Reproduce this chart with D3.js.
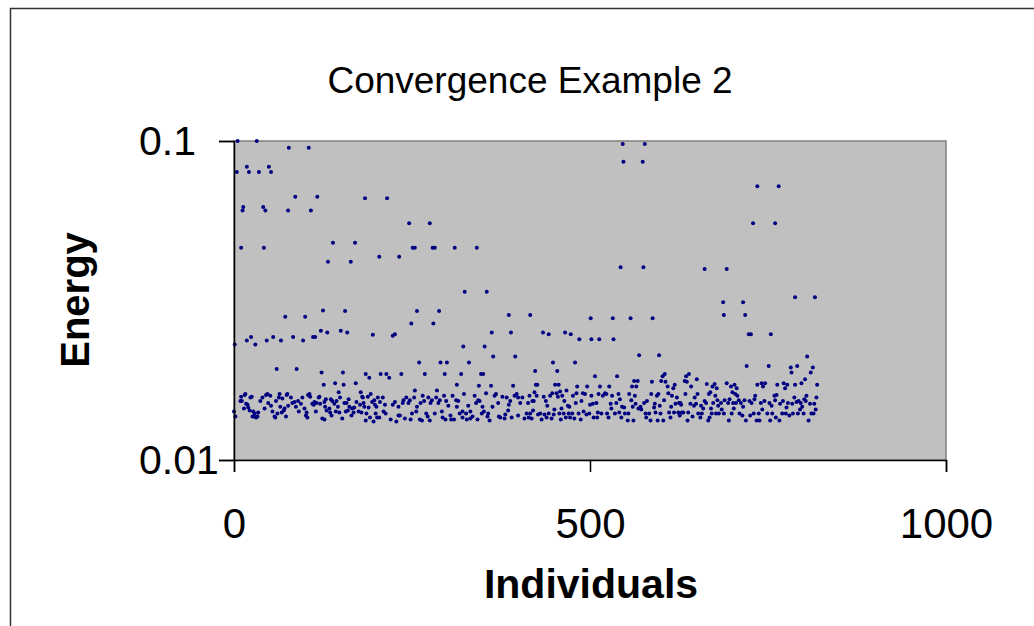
<!DOCTYPE html>
<html>
<head>
<meta charset="utf-8">
<script src="https://cdn.jsdelivr.net/npm/d3@7"></script>
<style>
  body { margin: 0; background: #fff; }
  svg { display: block; }
  text { font-family: "Liberation Sans", Arial, Helvetica, sans-serif; fill: #000; }
</style>
</head>
<body>
<svg id="chart" width="1034" height="626"></svg>
<script>
// Axis ticks
const xTicks = [0, 500, 1000];
const yTicks = [0.01, 0.1];

// Energy of each individual: [individual, energy]
// High-energy individuals (early generations and later restarts)
const upperSamples = [
  [5,0.100],[32,0.100],[77,0.0953],[105,0.0953],[18,0.0830],[49,0.0830],
  [4,0.0800],[21,0.0800],[35,0.0800],[52,0.0800],[86,0.0669],[117,0.0669],
  [13,0.0621],[12,0.0605],[41,0.0621],[44,0.0605],[76,0.0605],[108,0.0605],
  [10,0.0463],[42,0.0463],[132,0.0418],[125,0.0294],[72,0.0281],[100,0.0281],
  [122,0.0254],[131,0.0251],[1,0.0230],[18,0.0237],[24,0.0243],[30,0.0230],
  [46,0.0237],[55,0.0243],[66,0.0237],[83,0.0243],[97,0.0237],[111,0.0243],[114,0.0243],
  [60,0.0193],[88,0.0193],[123,0.0188],[126,0.0172],
  [184,0.0661],[215,0.0661],[246,0.0552],[275,0.0552],[139,0.0480],[170,0.0480],
  [251,0.0463],[254,0.0463],[164,0.0418],[204,0.0434],[232,0.0434],
  [156,0.0293],[257,0.0293],[249,0.0268],[150,0.0254],[159,0.0251],[195,0.0247],
  [223,0.0245],[226,0.0248],[260,0.0202],[153,0.0188],[185,0.0186],[190,0.0181],
  [206,0.0186],[214,0.0186],[218,0.0181],[235,0.0186],[268,0.0186],
  [142,0.0174],[154,0.0172],[171,0.0174],[147,0.0163],[178,0.0163],[181,0.0157],
  [192,0.0161],[202,0.0157],
  [290,0.0202],[299,0.0202],[330,0.0202],[296,0.0186],[319,0.0186],[347,0.0186],[350,0.0186],
  [313,0.0172],[344,0.0171],[361,0.0171],[392,0.0171],[254,0.0165],[285,0.0165],
  [279,0.0463],[282,0.0463],[310,0.0463],[341,0.0463],[324,0.0337],[355,0.0337],
  [288,0.0293],[280,0.0268],[386,0.0285],[416,0.0285],[362,0.0251],[389,0.0251],
  [322,0.0227],[352,0.0227],[364,0.0211],[395,0.0211],
  [546,0.0979],[547,0.0861],[543,0.0402],[501,0.0278],[532,0.0278],
  [434,0.0251],[442,0.0248],[465,0.0251],[473,0.0248],
  [485,0.0239],[502,0.0239],[513,0.0239],[533,0.0239],
  [448,0.0202],[479,0.0202],[423,0.0190],[454,0.0190],[507,0.0183],[538,0.0183],
  [424,0.0172],[426,0.0172],[451,0.0172],[456,0.0172],
  [482,0.0170],[496,0.0170],[514,0.0170],[527,0.0170],
  [577,0.0979],[574,0.0861],[575,0.0402],[661,0.0397],[692,0.0397],[687,0.0312],[688,0.0285],
  [557,0.0278],[588,0.0278],[569,0.0213],[597,0.0213],[605,0.0186],[639,0.0186],
  [562,0.0177],[567,0.0177],[559,0.0170],[565,0.0170],
  [587,0.0176],[600,0.0177],[602,0.0183],[606,0.0176],[609,0.0170],[617,0.0168],[619,0.0172],
  [735,0.0721],[765,0.0721],[729,0.0552],[760,0.0552],[788,0.0324],[816,0.0324],
  [715,0.0312],[718,0.0285],[723,0.0248],[726,0.0248],[754,0.0248],
  [805,0.0211],[720,0.0197],[751,0.0197],[782,0.0195],[791,0.0197],
  [783,0.0188],[813,0.0195],[810,0.0188],[802,0.0179],[819,0.0172],
  [635,0.0183],[633,0.0177],[636,0.0176],[650,0.0179],[642,0.0170],
  [664,0.0173],[672,0.0170],[675,0.0173],[678,0.0168],[669,0.0163],
  [692,0.0174],[698,0.0170],[703,0.0172],[706,0.0168],[700,0.0163],[704,0.0161],
  [735,0.0172],[741,0.0174],[746,0.0174],[743,0.0170],
  [763,0.0172],[772,0.0174],[777,0.0172],[774,0.0168],[788,0.0172],[797,0.0174]
];

// Individuals 0-200
const bandA = [
  [15,0.0160],[23,0.0157],[40,0.0157],[45,0.0160],[51,0.0159],[63,0.0157],[68,0.0156],[74,0.0160],
  [80,0.0157],[96,0.0157],[104,0.0160],[107,0.0158],[119,0.0157],[129,0.0155],[136,0.0155],
  [149,0.0157],[161,0.0155],[180,0.0158],[188,0.0158],[197,0.0154],
  [9,0.0153],[37,0.0153],[48,0.0151],[59,0.0153],[82,0.0151],[85,0.0152],[90,0.0153],[94,0.0150],
  [113,0.0152],[116,0.0151],[127,0.0152],[138,0.0153],[144,0.0153],[158,0.0151],[172,0.0152],
  [182,0.0151],[194,0.0152],
  [17,0.0150],[14,0.0145],[43,0.0145],[52,0.0148],[65,0.0147],[71,0.0145],[76,0.0148],[87,0.0147],
  [99,0.0145],[110,0.0150],[112,0.0149],[121,0.0150],[128,0.0147],[134,0.0145],[141,0.0150],
  [146,0.0147],[155,0.0151],[162,0.0147],[166,0.0145],[169,0.0146],[177,0.0149],[183,0.0147],
  [189,0.0146],[198,0.0149],[200,0.0147],
  [0,0.0142],[22,0.0143],[29,0.0140],[54,0.0142],[61,0.0140],[67,0.0141],[70,0.0143],[91,0.0142],
  [102,0.0141],[115,0.0142],[130,0.0143],[135,0.0141],[143,0.0142],[148,0.0141],[157,0.0142],
  [160,0.0143],[168,0.0141],[175,0.0142],[179,0.0141],[186,0.0140],[199,0.0140],
  [2,0.0137],[26,0.0137],[31,0.0136],[57,0.0137],[73,0.0137],[101,0.0138],[124,0.0135],
  [137,0.0138],[152,0.0135],[165,0.0138],[185,0.0133],[191,0.0136],[196,0.0132],[201,0.0136],
  [10,0.0158],[11,0.0153],[16,0.0161],[19,0.0149],[20,0.0146],[25,0.0158],[27,0.0142],
  [28,0.0137],[33,0.0137],[34,0.0141],[47,0.0161],[64,0.0161],[75,0.0161],[106,0.0161],
  [120,0.0158],[58,0.0136],[103,0.0136],[127,0.0134]
];

// Individuals 200-415
const bandB = [
  [209,0.0157],[205,0.0152],[212,0.0149],[210,0.0142],[213,0.0140],[204,0.0136],[220,0.0134],
  [228,0.0132],[231,0.0147],[226,0.0152],[237,0.0151],[238,0.0154],[242,0.0157],[245,0.0151],
  [247,0.0154],[253,0.0157],[250,0.0140],[248,0.0134],[240,0.0135],[233,0.0138],[256,0.0142],
  [262,0.0151],[265,0.0159],[267,0.0153],[261,0.0134],[264,0.0133],[270,0.0140],[273,0.0157],
  [276,0.0151],[278,0.0154],[284,0.0157],[287,0.0151],[289,0.0154],[295,0.0159],[298,0.0153],
  [293,0.0136],[292,0.0142],[301,0.0148],[304,0.0138],[297,0.0134],[305,0.0134],[309,0.0134],
  [307,0.0159],[312,0.0154],[315,0.0153],[317,0.0140],[321,0.0142],[323,0.0161],[326,0.0140],
  [327,0.0134],[329,0.0148],[332,0.0142],[338,0.0159],[340,0.0151],[343,0.0154],[345,0.0153],
  [335,0.0137],[342,0.0134],[348,0.0140],[351,0.0142],[354,0.0162],[357,0.0140],[356,0.0137],
  [359,0.0133],[366,0.0159],[368,0.0161],[371,0.0151],[374,0.0136],[377,0.0158],[380,0.0135],
  [383,0.0157],[385,0.0143],[388,0.0153],[390,0.0136],[394,0.0159],[397,0.0161],[399,0.0157],
  [402,0.0151],[405,0.0157],[408,0.0135],[411,0.0140],[414,0.0136],[381,0.0139],[372,0.0137],
  [275,0.0133],[223,0.0149],[231,0.0138],[257,0.0147],[272,0.0137],[282,0.0140],[313,0.0147],
  [321,0.0136],[332,0.0135],[349,0.0147],[363,0.0147],[386,0.0149],[399,0.0138],[413,0.0151]
];

// Individuals 415-626
const bandC = [
  [415,0.0159],[422,0.0163],[425,0.0159],[419,0.0153],[421,0.0153],[435,0.0158],[438,0.0153],
  [440,0.0148],[444,0.0159],[447,0.0162],[453,0.0162],[455,0.0158],[458,0.0164],[461,0.0159],
  [467,0.0165],[464,0.0153],[469,0.0148],[476,0.0159],[481,0.0162],[480,0.0151],[488,0.0153],
  [490,0.0162],[493,0.0161],[502,0.0159],[504,0.0150],[509,0.0151],[512,0.0161],[518,0.0159],
  [521,0.0162],[523,0.0161],[529,0.0150],[531,0.0159],[537,0.0151],[540,0.0161],[542,0.0155],
  [545,0.0147],[555,0.0161],[558,0.0154],[563,0.0159],[564,0.0150],[568,0.0145],[576,0.0151],
  [580,0.0153],[586,0.0161],[591,0.0150],[594,0.0159],[596,0.0161],[604,0.0154],[610,0.0162],
  [615,0.0159],[620,0.0150],[622,0.0157],[625,0.0151],
  [416,0.0140],[418,0.0135],[420,0.0143],[427,0.0139],[430,0.0140],[432,0.0134],[436,0.0139],
  [439,0.0136],[442,0.0140],[446,0.0135],[449,0.0139],[457,0.0140],[459,0.0134],[463,0.0140],
  [466,0.0136],[470,0.0140],[472,0.0136],[475,0.0140],[478,0.0135],[484,0.0140],[487,0.0134],
  [491,0.0142],[495,0.0139],[499,0.0140],[505,0.0136],[510,0.0136],[511,0.0141],[516,0.0140],
  [524,0.0140],[526,0.0136],[535,0.0140],[541,0.0141],[544,0.0136],[549,0.0140],[554,0.0140],
  [553,0.0133],[561,0.0133],[572,0.0144],[578,0.0140],[579,0.0136],[583,0.0140],[585,0.0133],
  [592,0.0141],[595,0.0133],[599,0.0140],[603,0.0133],[611,0.0141],[613,0.0136],[618,0.0141],
  [626,0.0138],[450,0.0144],[460,0.0145],[471,0.0147],[500,0.0149],[530,0.0145],[548,0.0146],
  [560,0.0147],[571,0.0147],[590,0.0146],[598,0.0148],[614,0.0147]
];

// Individuals 624-820
const bandD = [
  [634,0.0161],[651,0.0161],[647,0.0157],[667,0.0161],[676,0.0159],[679,0.0154],[707,0.0159],
  [709,0.0154],[696,0.0155],[732,0.0159],[731,0.0155],[759,0.0159],[762,0.0160],[787,0.0157],
  [793,0.0153],[801,0.0155],[804,0.0159],[818,0.0157],
  [627,0.0151],[641,0.0150],[646,0.0148],[649,0.0150],[656,0.0148],[661,0.0153],[663,0.0151],
  [673,0.0151],[680,0.0148],[684,0.0151],[689,0.0154],[694,0.0151],[701,0.0151],[705,0.0151],
  [712,0.0151],[717,0.0154],[724,0.0153],[727,0.0151],[740,0.0151],[745,0.0153],[752,0.0151],
  [760,0.0154],[767,0.0150],[771,0.0153],[778,0.0151],[784,0.0150],[790,0.0152],[796,0.0151],
  [803,0.0153],[809,0.0150],[815,0.0150],
  [624,0.0141],[629,0.0141],[631,0.0141],[638,0.0141],[637,0.0133],[644,0.0137],[652,0.0140],
  [655,0.0136],[657,0.0140],[666,0.0133],[668,0.0136],[671,0.0140],[677,0.0140],[681,0.0140],
  [688,0.0140],[695,0.0133],[699,0.0140],[702,0.0145],[710,0.0140],[714,0.0138],[719,0.0133],
  [725,0.0138],[730,0.0140],[734,0.0133],[738,0.0133],[737,0.0140],[742,0.0144],[749,0.0140],
  [753,0.0133],[756,0.0140],[761,0.0136],[766,0.0133],[770,0.0140],[775,0.0140],[780,0.0138],
  [785,0.0140],[792,0.0140],[795,0.0144],[800,0.0140],[807,0.0133],[811,0.0140],[814,0.0140],
  [817,0.0144],[628,0.0149],[659,0.0145],[670,0.0145],[685,0.0144],[715,0.0147],[755,0.0148],
  [776,0.0146],[798,0.0147]
];

const samples = [].concat(upperSamples, bandA, bandB, bandC, bandD);

const svg = d3.select("#chart");
const W = 1034, H = 626;
const plot = { left: 234, right: 946, top: 141, bottom: 460 };

// Chart frame
svg.append("rect")
  .attr("x", 10.5).attr("y", 8.5)
  .attr("width", W + 20).attr("height", H + 20)
  .attr("fill", "#fff")
  .attr("stroke", "#333").attr("stroke-width", 1.5);

const x = d3.scaleLinear().domain([0, 1000]).range([plot.left, plot.right]);
const y = d3.scaleLog().domain([0.01, 0.1]).range([plot.bottom, plot.top]);

// Plot area
svg.append("rect")
  .attr("x", plot.left).attr("y", plot.top)
  .attr("width", plot.right - plot.left).attr("height", plot.bottom - plot.top)
  .attr("fill", "#c0c0c0")
  .attr("stroke", "#808080").attr("stroke-width", 1.5);

// Points
svg.append("g")
  .selectAll("circle")
  .data(samples)
  .join("circle")
  .attr("cx", d => x(d[0]))
  .attr("cy", d => y(d[1]))
  .attr("r", 2)
  .attr("fill", "#000080");

// Y axis
const yAxis = svg.append("g")
  .attr("transform", `translate(${plot.left},0)`)
  .call(d3.axisLeft(y).tickValues(yTicks).tickFormat(d => String(d)).tickSize(15).tickPadding(16));
yAxis.select(".domain").attr("stroke", "#000").attr("stroke-width", 1.5);
yAxis.selectAll(".tick line").attr("stroke", "#000").attr("stroke-width", 1.5);
yAxis.selectAll(".tick text")
  .attr("font-size", 41)
  .attr("font-family", "Liberation Sans, Arial, sans-serif")
  .attr("text-anchor", "start")
  .attr("x", 139 - plot.left)
  .attr("fill", "#000");

// X axis
const xAxis = svg.append("g")
  .attr("transform", `translate(0,${plot.bottom})`)
  .call(d3.axisBottom(x).tickValues(xTicks).tickFormat(d3.format("d")).tickSize(12).tickPadding(36));
xAxis.select(".domain").attr("stroke", "#000").attr("stroke-width", 1.5);
xAxis.selectAll(".tick line").attr("stroke", "#000").attr("stroke-width", 1.5);
xAxis.selectAll(".tick text")
  .attr("font-size", 42)
  .attr("font-family", "Liberation Sans, Arial, sans-serif")
  .attr("fill", "#000");

// Title
svg.append("text")
  .attr("x", 530).attr("y", 93)
  .attr("text-anchor", "middle")
  .attr("font-size", 37)
  .text("Convergence Example 2");

// Axis titles
svg.append("text")
  .attr("x", 591).attr("y", 598)
  .attr("text-anchor", "middle")
  .attr("font-size", 41)
  .attr("font-weight", "bold")
  .text("Individuals");

svg.append("text")
  .attr("transform", "translate(89,300) rotate(-90)")
  .attr("text-anchor", "middle")
  .attr("font-size", 40)
  .attr("font-weight", "bold")
  .text("Energy");
</script>
</body>
</html>
